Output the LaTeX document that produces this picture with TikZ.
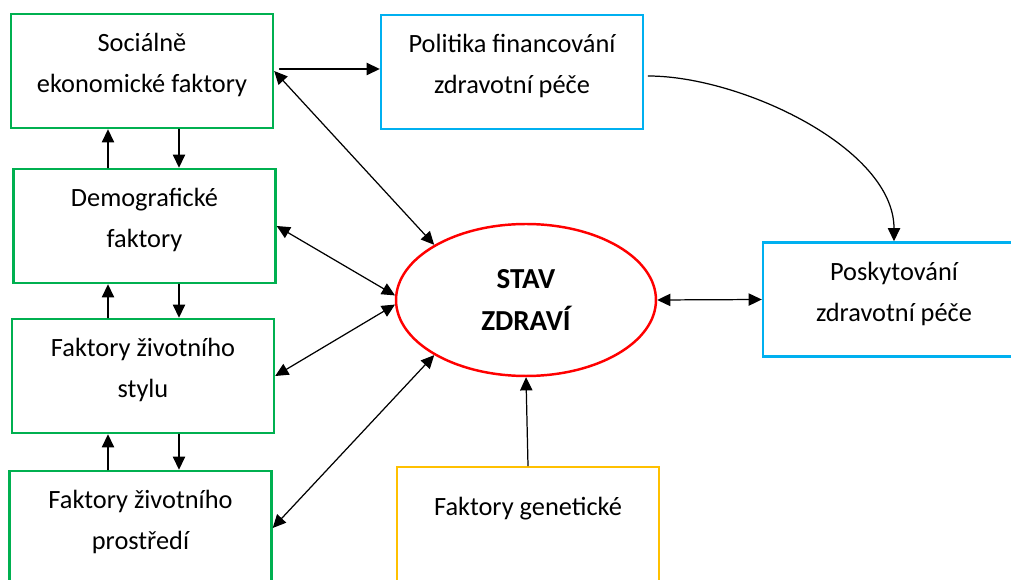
\documentclass[tikz,border=0pt]{standalone}
\usepackage{fontspec}
\setmainfont{Carlito}
\usetikzlibrary{arrows.meta,calc,shapes.geometric}

\definecolor{facgreen}{RGB}{0,176,80}
\definecolor{facblue}{RGB}{0,176,240}
\definecolor{facgold}{RGB}{255,192,0}
\definecolor{stavred}{RGB}{255,0,0}

\begin{document}
\begin{tikzpicture}[x=0.02cm,y=-0.02cm,line cap=round,
    >={Triangle[length=7.5pt,width=7pt]},
    factor/.style={draw=#1,line width=1.4pt,rectangle,minimum width=5.24cm,
      minimum height=2.28cm,align=center,font=\fontsize{15}{23.5}\selectfont,
      text depth=9pt},
    arr/.style={->,line width=0.7pt},
    twoway/.style={<->,line width=0.7pt}]
  \useasboundingbox (0,0) rectangle (1011,580);
  \clip (0,0) rectangle (1011,580);

  % --- green factor boxes on the left ---
  \node[factor=facgreen] (soc)   at (142,71)    {Sociálně\\ekonomické faktory};
  \node[factor=facgreen] (demo)  at (144.5,226) {Demografické\\faktory};
  \node[factor=facgreen] (styl)  at (143,376)   {Faktory životního\\stylu};
  \node[factor=facgreen] (prost) at (140.5,528) {Faktory životního\\prostředí};

  % --- health care boxes ---
  \node[factor=facblue] (pol)  at (512,72)    {Politika financování\\zdravotní péče};
  \node[factor=facblue] (posk) at (894,299.5) {Poskytování\\zdravotní péče};
  \node[factor=facgold,text depth=20pt] (gen) at (528,524) {Faktory genetické};

  % --- health state in the middle ---
  \node[ellipse,draw=stavred,line width=1.4pt,minimum width=5.2cm,minimum height=3.04cm,
        inner sep=0pt,align=center,font=\fontsize{16.5}{23.5}\selectfont\bfseries]
        (stav) at (526,300) {STAV\\ZDRAVÍ};

  % --- links between neighbouring green boxes ---
  \foreach \up/\lo in {soc/demo,demo/styl,styl/prost}{
    \draw[arr] (108,0 |- \lo.north) -- (108,0 |- \up.south);
    \draw[arr] (179,0 |- \up.south) -- (179,0 |- \lo.north);
  }

  % --- links to the health state ---
  \draw[arr,shorten <=3pt] ([yshift=0.04cm]soc.east) -- ([yshift=0.04cm]soc.east -| pol.west);
  \draw[twoway] (soc.east)   -- (stav.149);
  \draw[twoway] (demo.east)  -- (stav.178);
  \draw[twoway] (styl.east)  -- (stav.182);
  \draw[twoway] (prost.east) -- (stav.211);
  \draw[twoway] (stav.east)  -- (posk.west);
  \draw[arr] (gen.north) -- (stav.south);

  % --- financing policy drives provision of care ---
  \draw[arr] ($(pol.east)+(4,4)$) .. controls ($(pol.east)+(97,4)$) and ($(posk.north)+(0,-93)$) .. (posk.north);
\end{tikzpicture}
\end{document}
